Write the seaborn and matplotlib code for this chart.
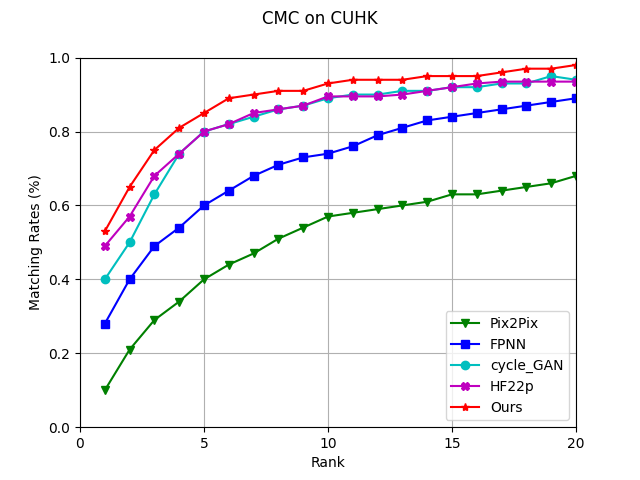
import matplotlib
matplotlib.use('Agg')
import matplotlib.pyplot as plt
import seaborn as sns

ranks = list(range(1, 21))

pix2pix = [0.10, 0.21, 0.29, 0.34, 0.40, 0.44, 0.47, 0.51, 0.54, 0.57,
           0.58, 0.59, 0.60, 0.61, 0.63, 0.63, 0.64, 0.65, 0.66, 0.68]
fpnn = [0.28, 0.40, 0.49, 0.54, 0.60, 0.64, 0.68, 0.71, 0.73, 0.74,
        0.76, 0.79, 0.81, 0.83, 0.84, 0.85, 0.86, 0.87, 0.88, 0.89]
cycle_gan = [0.40, 0.50, 0.63, 0.74, 0.80, 0.82, 0.84, 0.86, 0.87, 0.89,
             0.90, 0.90, 0.91, 0.91, 0.92, 0.92, 0.93, 0.93, 0.95, 0.94]
hf22p = [0.49, 0.57, 0.68, 0.74, 0.80, 0.82, 0.85, 0.86, 0.87, 0.895,
         0.895, 0.895, 0.90, 0.91, 0.92, 0.93, 0.935, 0.935, 0.935, 0.935]
ours = [0.53, 0.65, 0.75, 0.81, 0.85, 0.89, 0.90, 0.91, 0.91, 0.93,
        0.94, 0.94, 0.94, 0.95, 0.95, 0.95, 0.96, 0.97, 0.97, 0.98]

series = [
    ('Pix2Pix', pix2pix, 'g', 'v'),
    ('FPNN', fpnn, 'b', 's'),
    ('cycle_GAN', cycle_gan, 'c', 'o'),
    ('HF22p', hf22p, 'm', 'X'),
    ('Ours', ours, 'r', '*'),
]

fig, ax = plt.subplots(figsize=(6.4, 4.8), dpi=100)

for name, vals, color, marker in series:
    sns.lineplot(x=ranks, y=vals, ax=ax, color=color, marker=marker,
                 markersize=6, markeredgecolor=color, markeredgewidth=1,
                 label=name)

ax.set_xlim(0, 20)
ax.set_ylim(0, 1.0)
ax.set_xticks([0, 5, 10, 15, 20])
ax.grid(True)
ax.set_xlabel('Rank')
ax.set_ylabel('Matching Rates (%)')
ax.legend(loc='lower right')
fig.suptitle('CMC on CUHK')

fig.savefig('out.png')
